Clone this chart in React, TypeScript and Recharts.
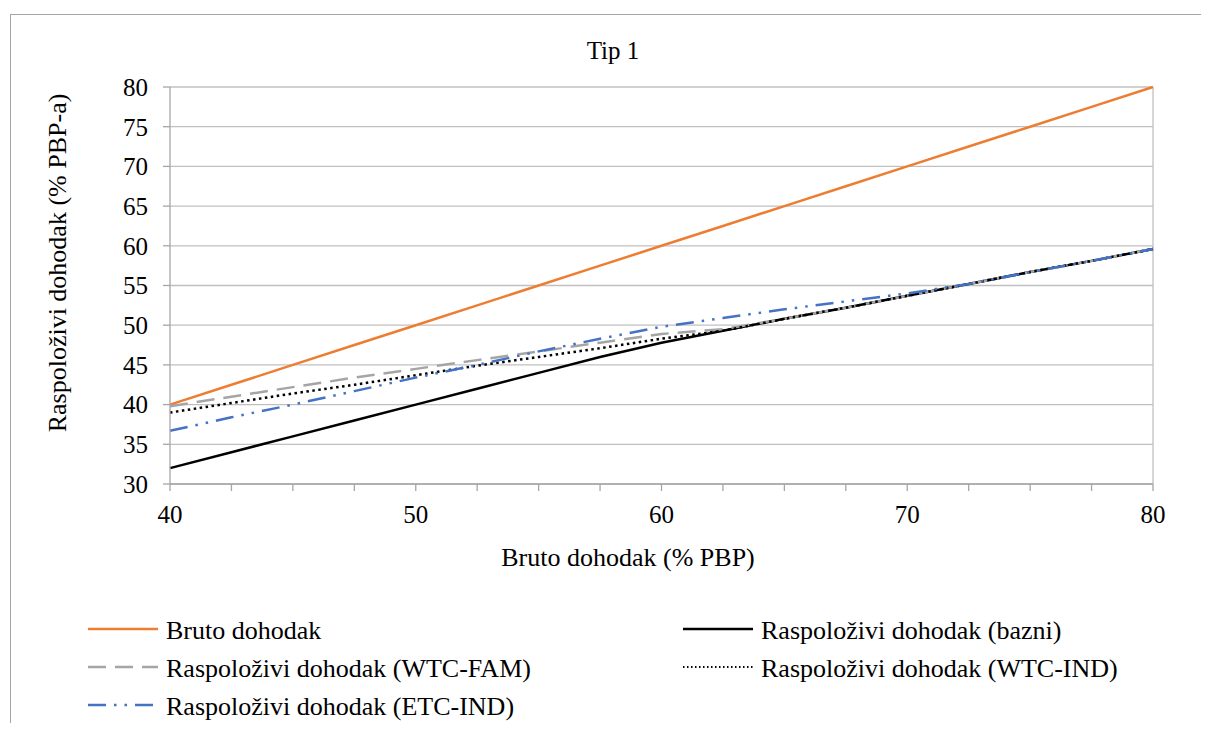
import { LineChart, Line, XAxis, YAxis, CartesianGrid, ReferenceLine } from "recharts";

// bruto dohodak (% PBP) na osi x
const xValues = [40, 42.5, 45, 47.5, 50, 52.5, 55, 57.5, 60, 62.5, 65, 67.5, 70, 72.5, 75, 77.5, 80];

const bruto = [40, 42.5, 45, 47.5, 50, 52.5, 55, 57.5, 60, 62.5, 65, 67.5, 70, 72.5, 75, 77.5, 80];
const bazni = [32, 34, 36, 38, 40, 42, 44, 46, 47.8, 49.3, 50.8, 52.2, 53.7, 55.2, 56.7, 58.1, 59.6];
const wtcFam = [39.8, 41.0, 42.2, 43.4, 44.5, 45.6, 46.7, 47.8, 48.9, 49.5, 50.8, 52.2, 53.7, 55.2, 56.7, 58.1, 59.6];
const wtcInd = [39.0, 40.2, 41.4, 42.5, 43.7, 44.9, 46.0, 47.1, 48.3, 49.3, 50.8, 52.2, 53.7, 55.2, 56.7, 58.1, 59.6];
const etcInd = [36.7, 38.4, 40.0, 41.7, 43.4, 45.0, 46.7, 48.3, 49.8, 50.9, 52.0, 53.0, 54.0, 55.2, 56.7, 58.1, 59.6];

const xTicks = [40, 42.5, 45, 47.5, 50, 52.5, 55, 57.5, 60, 62.5, 65, 67.5, 70, 72.5, 75, 77.5, 80];
const yTicks = [30, 35, 40, 45, 50, 55, 60, 65, 70, 75, 80];

const series = [
  { key: "bruto", name: "Bruto dohodak", values: bruto, color: "#ED7D31", dash: undefined },
  { key: "bazni", name: "Raspoloživi dohodak (bazni)", values: bazni, color: "#000000", dash: undefined },
  { key: "wtcFam", name: "Raspoloživi dohodak (WTC-FAM)", values: wtcFam, color: "#A5A5A5", dash: "18 9" },
  { key: "wtcInd", name: "Raspoloživi dohodak (WTC-IND)", values: wtcInd, color: "#000000", dash: "2.5 3.5" },
  { key: "etcInd", name: "Raspoloživi dohodak (ETC-IND)", values: etcInd, color: "#4472C4", dash: "18 8 2.5 8 2.5 8" },
];

const data = xValues.map((x, i) => {
  const row: Record<string, number> = { x };
  series.forEach((s) => (row[s.key] = s.values[i]));
  return row;
});

const font = "Liberation Serif";
const textStyle = { fontFamily: font };

// legenda: dva stupca, redoslijed kao u Excelu
const legendPos = [
  { col: 0, row: 0 },
  { col: 1, row: 0 },
  { col: 0, row: 1 },
  { col: 1, row: 1 },
  { col: 0, row: 2 },
];

const ChartLegend = () => (
  <svg width={1193} height={130} style={{ position: "absolute", left: 0, top: 600 }}>
    {series.map((s, i) => {
      const p = legendPos[i];
      const x0 = p.col === 0 ? 80 : 675;
      const y = 21 + p.row * 38;
      return (
        <g key={s.key}>
          <line
            x1={x0}
            x2={x0 + 70}
            y1={y}
            y2={y}
            stroke={s.color}
            strokeWidth={s.key === "wtcInd" ? 2 : 2.5}
            strokeDasharray={s.key === "wtcInd" ? "1.5 2.5" : s.dash}
          />
          <text x={x0 + 78} y={y + 10} fontSize={26} style={textStyle} fill="#000">
            {s.name}
          </text>
        </g>
      );
    })}
  </svg>
);

export default function App() {
  return (
    <div style={{ position: "relative", width: 1193, height: 715, fontFamily: font }}>
      <div
        style={{
          position: "absolute",
          left: 2,
          top: 6,
          width: 1199,
          height: 717,
          borderLeft: "1.5px solid #a6a6a6",
          borderTop: "1.5px solid #a6a6a6",
          boxSizing: "border-box",
        }}
      />
      <LineChart
        width={1193}
        height={600}
        data={data}
        margin={{ top: 79, right: 48, left: 62, bottom: 84 }}
        style={{ position: "absolute", left: 0, top: 0, fontFamily: font }}
      >
        <CartesianGrid vertical={false} stroke="#c0c0c0" strokeWidth={1.3} />
        <ReferenceLine x={80} stroke="#c0c0c0" strokeWidth={1.3} />
        <XAxis
          dataKey="x"
          type="number"
          domain={[40, 80]}
          ticks={xTicks}
          interval={0}
          tickFormatter={(v: number) => (v % 10 === 0 ? String(v) : "")}
          tickSize={7}
          tickMargin={14}
          height={40}
          stroke="#a6a6a6"
          strokeWidth={1.3}
          tick={{ fill: "#000", fontSize: 25, style: textStyle }}
        />
        <YAxis
          type="number"
          domain={[30, 80]}
          ticks={yTicks}
          interval={0}
          tickSize={7}
          tickMargin={15}
          width={100}
          stroke="#a6a6a6"
          strokeWidth={1.3}
          tick={{ fill: "#000", fontSize: 25, style: textStyle }}
        />
        {series.map((s) => (
          <Line
            key={s.key}
            dataKey={s.key}
            name={s.name}
            type="linear"
            stroke={s.color}
            strokeWidth={2.5}
            strokeDasharray={s.dash}
            dot={false}
            activeDot={false}
            isAnimationActive={false}
          />
        ))}
        <text x={605} y={51} textAnchor="middle" fontSize={25} style={textStyle} fill="#000">
          Tip 1
        </text>
        <text x={620} y={558} textAnchor="middle" fontSize={26} style={textStyle} fill="#000">
          Bruto dohodak (% PBP)
        </text>
        <text
          x={49}
          y={255}
          textAnchor="middle"
          dominantBaseline="central"
          transform="rotate(-90 49 255)"
          fontSize={26}
          style={textStyle}
          fill="#000"
        >
          Raspoloživi dohodak (% PBP-a)
        </text>
      </LineChart>
      <ChartLegend />
    </div>
  );
}
